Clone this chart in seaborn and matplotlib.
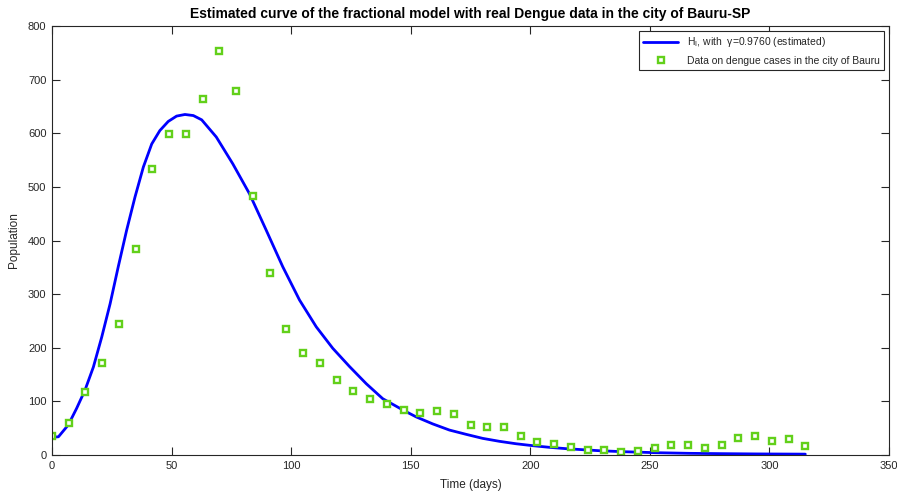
import matplotlib
matplotlib.use("Agg")
import matplotlib.pyplot as plt
import seaborn as sns
import pandas as pd

# Observed weekly dengue cases (Bauru)
data_days = [0, 7, 14, 21, 28, 35, 42, 49, 56, 63, 70, 77, 84, 91, 98, 105, 112, 119,
             126, 133, 140, 147, 154, 161, 168, 175, 182, 189, 196, 203, 210, 217, 224,
             231, 238, 245, 252, 259, 266, 273, 280, 287, 294, 301, 308, 315]
data_cases = [35, 59, 117, 171, 244, 384, 533, 598, 599, 663, 754, 678, 483, 339, 235,
              190, 172, 140, 120, 105, 95, 83, 79, 82, 77, 56, 53, 53, 35, 25, 20, 14,
              9, 9, 5, 8, 13, 19, 18, 13, 19, 31, 35, 27, 29, 17]

# Estimated model curve H_I
curve_days = [0, 2.7, 6.8, 10.3, 13.8, 17.3, 20.8, 24.3, 27.7, 31.2, 34.7, 38.2, 41.7,
              45.1, 48.6, 52.1, 55.6, 59.1, 62.6, 68.7, 75.6, 82.6, 89.6, 96.5, 103.5,
              110.5, 117.4, 124.4, 131.4, 138.3, 146.7, 152.3, 159.2, 166.2, 173.2,
              180.1, 187.1, 194, 201, 208, 215, 221.9, 228.9, 238.6, 252.5, 266.5,
              280.4, 294.4, 315]
curve_vals = [33, 34, 56, 87, 121, 164, 220, 282, 351, 419, 481, 537, 580,
              605, 622, 632, 635, 633, 625, 593, 543, 487, 419, 351, 289,
              239, 199, 165, 133, 105, 84, 71, 58, 46.5, 38.5,
              31, 25.5, 21, 17.4, 14.3, 11.8, 9.9, 8, 6.2, 4.3, 3.1,
              2.5, 2, 1.6]

title = "Estimated curve of the fractional model with real Dengue data in the city of Bauru-SP"
line_label = r"H$_\mathregular{I}$, with  γ=0.9760 (estimated)"
data_label = "Data on dengue cases in the city of Bauru"

sns.set_theme(style="ticks")
plt.rcParams['font.family'] = ['Liberation Sans', 'DejaVu Sans']
plt.rcParams['mathtext.fontset'] = 'custom'
plt.rcParams['mathtext.rm'] = 'Liberation Sans'

dark = "#262626"
green = "#62d01a"

fig = plt.figure(figsize=(8.97, 4.96), dpi=100)
ax = fig.add_axes([52/897, 41/496, (889-52)/897, (455-26)/496])

curve_df = pd.DataFrame({"day": curve_days, "val": curve_vals})
data_df = pd.DataFrame({"day": data_days, "cases": data_cases})

sns.lineplot(data=curve_df, x="day", y="val", ax=ax, color="#0000ff", linewidth=2,
             label=line_label, sort=True, solid_joinstyle="round")
sns.lineplot(data=data_df, x="day", y="cases", ax=ax, linestyle="none", marker="s",
             markersize=4.3, markerfacecolor="white", markeredgecolor=green,
             markeredgewidth=1.7, color=green, label=data_label)

ax.set_xlim(0, 350)
ax.set_ylim(0, 800)
ax.set_xticks(range(0, 351, 50))
ax.set_yticks(range(0, 801, 100))
ax.tick_params(direction="in", top=True, right=True, labelsize=8, colors=dark,
               length=6, width=0.8, pad=4)
for s in ax.spines.values():
    s.set_visible(True)
    s.set_color(dark)
    s.set_linewidth(0.8)

ax.set_xlabel("Time (days)", fontsize=8.5, color=dark, labelpad=6)
ax.set_ylabel("Population", fontsize=8.5, color=dark, labelpad=6)
ax.set_title(title, fontsize=10, fontweight="bold", color="black", pad=6)

leg = ax.legend(loc="upper right", fontsize=7.5, frameon=True, fancybox=False,
                edgecolor=dark, framealpha=1, handlelength=3.4, numpoints=1,
                borderaxespad=0.5, labelspacing=0.6, borderpad=0.4)
leg.get_frame().set_linewidth(0.8)

fig.savefig("out.png", dpi=100)
